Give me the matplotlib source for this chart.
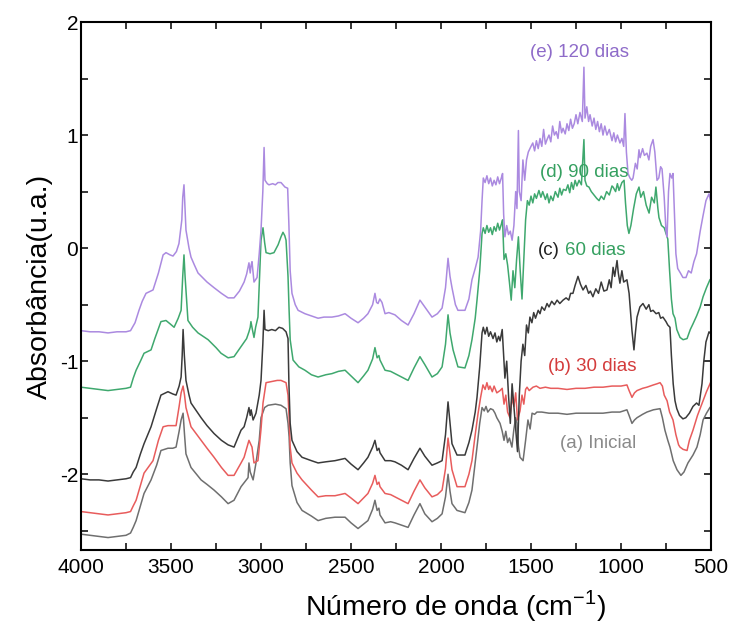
import matplotlib
matplotlib.use("Agg")
import matplotlib.pyplot as plt
from matplotlib.ticker import MultipleLocator

plt.rcParams['font.family'] = ['Liberation Sans', 'DejaVu Sans']
plt.rcParams['axes.unicode_minus'] = False
plt.rcParams['mathtext.fontset'] = 'custom'
plt.rcParams['mathtext.rm'] = 'Liberation Sans'

# (wavenumber cm-1, absorbance)
spec_e = [
    (4000, -0.73), (3950, -0.74), (3900, -0.74), (3850, -0.75), (3800, -0.74), (3750, -0.74), (3725, -0.73),
    (3700, -0.66), (3678, -0.55), (3660, -0.47), (3639, -0.40), (3600, -0.37), (3570, -0.22), (3544, -0.06),
    (3528, -0.04), (3505, -0.06), (3489, -0.07), (3470, -0.03), (3456, 0.04), (3440, 0.25), (3435, 0.45),
    (3428, 0.56), (3422, 0.35), (3417, 0.16), (3400, 0.0), (3389, -0.08), (3370, -0.15), (3350, -0.22),
    (3300, -0.30), (3261, -0.35), (3220, -0.40), (3183, -0.44), (3150, -0.44), (3120, -0.38), (3094, -0.30),
    (3080, -0.23), (3067, -0.13), (3060, -0.22), (3055, -0.15), (3050, -0.12), (3039, -0.30), (3022, -0.26),
    (3010, -0.05), (3000, 0.16), (2990, 0.5), (2983, 0.89), (2978, 0.60), (2965, 0.57), (2956, 0.56),
    (2935, 0.57), (2920, 0.56), (2906, 0.58), (2889, 0.58), (2867, 0.54), (2852, 0.53), (2845, 0.2),
    (2838, -0.2), (2828, -0.40), (2810, -0.50), (2794, -0.55), (2756, -0.58), (2720, -0.60), (2683, -0.62),
    (2650, -0.61), (2606, -0.61), (2570, -0.60), (2533, -0.58), (2500, -0.62), (2461, -0.66), (2430, -0.62),
    (2406, -0.58), (2380, -0.50), (2367, -0.40), (2358, -0.48), (2350, -0.49), (2340, -0.45), (2328, -0.48),
    (2311, -0.58), (2290, -0.57), (2256, -0.59), (2220, -0.64), (2183, -0.68), (2150, -0.58), (2117, -0.46),
    (2090, -0.52), (2050, -0.61), (2020, -0.58), (1994, -0.53), (1975, -0.35), (1961, -0.09), (1950, -0.25),
    (1939, -0.35), (1920, -0.50), (1906, -0.55), (1867, -0.55), (1845, -0.45), (1828, -0.28), (1810, -0.18),
    (1794, -0.08), (1780, 0.15), (1772, 0.42), (1765, 0.62), (1755, 0.58), (1745, 0.64), (1735, 0.57),
    (1725, 0.62), (1715, 0.55), (1705, 0.60), (1695, 0.56), (1685, 0.63), (1675, 0.57), (1665, 0.62),
    (1658, 0.66), (1652, 0.3), (1645, 0.1), (1635, 0.2), (1625, 0.12), (1615, 0.15), (1605, 0.07),
    (1595, 0.2), (1585, 0.5), (1578, 0.35), (1570, 1.04), (1565, 0.5), (1555, 0.42), (1545, 0.78),
    (1535, 0.60), (1525, 0.78), (1515, 0.85), (1500, 0.90), (1490, 0.93), (1480, 0.86), (1470, 0.95),
    (1460, 0.88), (1450, 0.97), (1440, 0.90), (1430, 1.05), (1420, 0.92), (1411, 0.96), (1400, 1.00),
    (1390, 0.94), (1380, 1.08), (1370, 1.00), (1360, 1.03), (1350, 0.97), (1340, 1.12), (1330, 1.02),
    (1322, 1.06), (1310, 1.01), (1300, 1.10), (1290, 1.04), (1280, 1.14), (1270, 1.06), (1260, 1.10),
    (1250, 1.18), (1240, 1.10), (1228, 1.20), (1215, 1.12), (1206, 1.60), (1200, 1.15), (1190, 1.25),
    (1180, 1.12), (1172, 1.18), (1160, 1.08), (1150, 1.15), (1140, 1.05), (1130, 1.12), (1120, 1.03),
    (1110, 1.10), (1100, 1.00), (1090, 1.08), (1078, 1.00), (1065, 1.05), (1050, 0.95), (1040, 1.02),
    (1030, 0.94), (1020, 1.00), (1006, 0.93), (995, 0.97), (985, 0.90), (978, 1.19), (970, 0.85),
    (961, 0.66), (950, 0.62), (940, 0.60), (933, 0.62), (920, 0.75), (910, 0.70), (900, 0.87), (894, 0.80),
    (880, 0.88), (870, 0.82), (856, 0.84), (845, 0.78), (835, 0.90), (822, 0.96), (812, 0.85), (800, 0.60),
    (790, 0.62), (780, 0.72), (772, 0.70), (760, 0.45), (750, 0.15), (744, 0.10), (736, 0.5), (728, 0.66),
    (718, 0.62), (711, 0.66), (703, 0.3), (695, -0.05), (685, -0.18), (670, -0.22), (656, -0.26),
    (639, -0.26), (625, -0.20), (610, -0.22), (595, -0.12), (580, -0.05), (560, 0.15), (545, 0.28),
    (528, 0.42), (511, 0.48), (500, 0.40),
]

spec_d = [
    (4000, -1.23), (3950, -1.24), (3900, -1.25), (3850, -1.26), (3800, -1.25), (3750, -1.24), (3725, -1.23),
    (3710, -1.15), (3694, -1.08), (3670, -1.00), (3650, -0.93), (3611, -0.90), (3590, -0.80), (3567, -0.70),
    (3556, -0.65), (3528, -0.64), (3505, -0.67), (3483, -0.70), (3460, -0.62), (3444, -0.55), (3435, -0.25),
    (3428, -0.06), (3422, -0.25), (3417, -0.37), (3410, -0.55), (3406, -0.64), (3380, -0.70), (3350, -0.75),
    (3294, -0.81), (3250, -0.88), (3222, -0.93), (3183, -0.97), (3150, -0.96), (3111, -0.87), (3094, -0.83),
    (3080, -0.80), (3067, -0.74), (3060, -0.70), (3056, -0.65), (3048, -0.72), (3039, -0.79), (3030, -0.70),
    (3017, -0.61), (3008, -0.25), (3000, 0.07), (2989, 0.18), (2980, 0.05), (2972, -0.04), (2950, -0.05),
    (2928, -0.04), (2905, 0.03), (2889, 0.10), (2878, 0.14), (2868, 0.11), (2861, 0.07), (2850, -0.25),
    (2844, -0.55), (2838, -0.81), (2822, -0.99), (2790, -1.05), (2756, -1.08), (2720, -1.12), (2683, -1.14),
    (2640, -1.12), (2606, -1.11), (2570, -1.09), (2533, -1.08), (2500, -1.13), (2461, -1.19), (2430, -1.13),
    (2406, -1.08), (2380, -0.98), (2367, -0.88), (2355, -0.97), (2345, -0.95), (2339, -0.99), (2311, -1.08),
    (2280, -1.09), (2256, -1.11), (2220, -1.14), (2183, -1.17), (2150, -1.06), (2117, -0.96), (2090, -1.03),
    (2050, -1.14), (2020, -1.11), (1994, -1.05), (1975, -0.85), (1961, -0.59), (1950, -0.75), (1933, -0.90),
    (1906, -1.05), (1867, -1.06), (1845, -0.95), (1828, -0.81), (1810, -0.62), (1800, -0.46), (1785, -0.2),
    (1772, 0.13), (1765, 0.18), (1755, 0.13), (1745, 0.20), (1735, 0.14), (1725, 0.18), (1715, 0.12),
    (1705, 0.19), (1695, 0.15), (1685, 0.22), (1675, 0.16), (1665, 0.21), (1658, 0.25), (1650, -0.1),
    (1640, -0.05), (1630, -0.15), (1620, -0.3), (1610, -0.46), (1600, -0.20), (1590, -0.35), (1580, -0.10),
    (1570, 0.10), (1560, -0.2), (1550, -0.45), (1540, -0.1), (1530, 0.25), (1520, 0.42), (1510, 0.38),
    (1500, 0.46), (1490, 0.40), (1480, 0.48), (1470, 0.44), (1456, 0.51), (1445, 0.45), (1435, 0.50),
    (1420, 0.43), (1410, 0.48), (1400, 0.40), (1390, 0.46), (1378, 0.42), (1365, 0.50), (1350, 0.45),
    (1340, 0.53), (1330, 0.47), (1320, 0.52), (1306, 0.51), (1295, 0.56), (1285, 0.49), (1275, 0.58),
    (1265, 0.52), (1255, 0.60), (1245, 0.55), (1233, 0.60), (1220, 0.56), (1206, 0.96), (1200, 0.60),
    (1190, 0.55), (1178, 0.54), (1165, 0.50), (1150, 0.47), (1135, 0.44), (1122, 0.42), (1110, 0.46),
    (1095, 0.43), (1080, 0.50), (1065, 0.47), (1050, 0.55), (1044, 0.54), (1030, 0.50), (1020, 0.57),
    (1011, 0.51), (995, 0.58), (983, 0.60), (975, 0.40), (965, 0.20), (956, 0.13), (945, 0.20), (930, 0.35),
    (915, 0.48), (900, 0.54), (890, 0.45), (875, 0.50), (860, 0.38), (844, 0.31), (830, 0.45), (815, 0.40),
    (806, 0.54), (795, 0.35), (789, 0.27), (775, 0.20), (760, 0.18), (750, 0.13), (740, 0.08), (730, -0.2),
    (720, -0.45), (711, -0.58), (700, -0.62), (690, -0.72), (672, -0.79), (655, -0.81), (633, -0.80),
    (615, -0.72), (600, -0.67), (580, -0.60), (560, -0.52), (544, -0.43), (525, -0.35), (506, -0.28),
    (500, -0.27),
]

spec_c = [
    (4000, -2.04), (3950, -2.05), (3900, -2.05), (3850, -2.06), (3800, -2.05), (3750, -2.04), (3725, -2.03),
    (3710, -1.98), (3694, -1.94), (3670, -1.82), (3650, -1.73), (3611, -1.58), (3580, -1.42), (3556, -1.30),
    (3517, -1.27), (3490, -1.29), (3472, -1.30), (3455, -1.22), (3444, -1.14), (3438, -0.95), (3433, -0.72),
    (3426, -0.95), (3417, -1.17), (3400, -1.30), (3389, -1.37), (3333, -1.50), (3300, -1.57), (3261, -1.64),
    (3220, -1.70), (3183, -1.74), (3150, -1.76), (3111, -1.61), (3094, -1.58), (3080, -1.50), (3067, -1.41),
    (3060, -1.48), (3055, -1.43), (3044, -1.52), (3028, -1.46), (3010, -1.30), (3000, -1.17), (2990, -0.85),
    (2983, -0.55), (2978, -0.72), (2960, -0.73), (2940, -0.72), (2920, -0.73), (2900, -0.70), (2880, -0.71),
    (2861, -0.74), (2850, -0.80), (2845, -1.2), (2838, -1.55), (2828, -1.70), (2800, -1.80), (2772, -1.85),
    (2720, -1.88), (2683, -1.90), (2640, -1.89), (2589, -1.88), (2533, -1.86), (2500, -1.91), (2461, -1.96),
    (2430, -1.90), (2406, -1.85), (2380, -1.76), (2367, -1.70), (2355, -1.79), (2345, -1.77), (2339, -1.81),
    (2311, -1.88), (2280, -1.88), (2256, -1.89), (2220, -1.92), (2183, -1.96), (2150, -1.86), (2117, -1.77),
    (2090, -1.84), (2050, -1.92), (2020, -1.90), (1994, -1.88), (1975, -1.65), (1961, -1.36), (1950, -1.55),
    (1939, -1.73), (1911, -1.83), (1867, -1.83), (1845, -1.72), (1828, -1.61), (1810, -1.45), (1800, -1.32),
    (1785, -1.05), (1772, -0.75), (1765, -0.70), (1755, -0.76), (1745, -0.70), (1735, -0.78), (1725, -0.74),
    (1711, -0.80), (1700, -0.75), (1690, -0.83), (1680, -0.78), (1672, -0.82), (1660, -0.72), (1652, -0.95),
    (1645, -1.15), (1635, -1.0), (1625, -1.3), (1615, -1.55), (1605, -1.20), (1595, -1.40), (1585, -1.6),
    (1575, -1.80), (1565, -1.30), (1555, -1.0), (1545, -0.85), (1535, -0.95), (1525, -0.68), (1515, -0.75),
    (1506, -0.61), (1495, -0.66), (1485, -0.57), (1475, -0.62), (1460, -0.55), (1450, -0.58), (1440, -0.52),
    (1425, -0.55), (1411, -0.49), (1400, -0.52), (1385, -0.47), (1370, -0.50), (1355, -0.46), (1340, -0.49),
    (1322, -0.46), (1305, -0.44), (1290, -0.46), (1280, -0.40), (1267, -0.40), (1255, -0.33), (1239, -0.25),
    (1225, -0.32), (1211, -0.37), (1195, -0.33), (1180, -0.40), (1170, -0.38), (1156, -0.43), (1140, -0.36),
    (1125, -0.40), (1110, -0.30), (1095, -0.38), (1078, -0.37), (1065, -0.28), (1055, -0.35), (1044, -0.17),
    (1035, -0.25), (1022, -0.11), (1015, -0.22), (1006, -0.31), (995, -0.20), (985, -0.30), (967, -0.28),
    (955, -0.40), (945, -0.60), (939, -0.73), (928, -0.90), (920, -0.75), (911, -0.61), (895, -0.52),
    (878, -0.49), (860, -0.54), (845, -0.50), (835, -0.56), (822, -0.55), (805, -0.58), (790, -0.57),
    (780, -0.62), (767, -0.61), (750, -0.65), (740, -0.68), (728, -0.70), (720, -0.95), (710, -1.20),
    (700, -1.35), (690, -1.42), (675, -1.48), (656, -1.51), (640, -1.50), (620, -1.46), (600, -1.40),
    (580, -1.37), (567, -1.39), (550, -1.20), (540, -1.00), (528, -0.83), (511, -0.74), (500, -0.76),
]

spec_b = [
    (4000, -2.33), (3950, -2.34), (3900, -2.35), (3850, -2.36), (3800, -2.35), (3750, -2.34), (3725, -2.33),
    (3710, -2.28), (3694, -2.23), (3670, -2.10), (3650, -1.99), (3600, -1.88), (3570, -1.70), (3544, -1.58),
    (3517, -1.57), (3490, -1.57), (3472, -1.57), (3455, -1.40), (3444, -1.28), (3433, -1.22), (3425, -1.30),
    (3417, -1.41), (3389, -1.58), (3333, -1.70), (3300, -1.77), (3261, -1.85), (3220, -1.94), (3183, -2.01),
    (3150, -2.01), (3111, -1.90), (3094, -1.85), (3067, -1.70), (3050, -1.76), (3039, -1.90), (3017, -1.88),
    (3000, -1.60), (2989, -1.37), (2972, -1.19), (2940, -1.18), (2910, -1.17), (2889, -1.17), (2861, -1.19),
    (2850, -1.30), (2844, -1.50), (2838, -1.76), (2828, -1.90), (2800, -1.99), (2772, -2.05), (2720, -2.14),
    (2683, -2.20), (2640, -2.19), (2589, -2.19), (2533, -2.17), (2500, -2.21), (2461, -2.26), (2430, -2.21),
    (2406, -2.17), (2380, -2.08), (2367, -2.01), (2355, -2.09), (2345, -2.07), (2339, -2.11), (2311, -2.17),
    (2280, -2.18), (2256, -2.20), (2220, -2.23), (2183, -2.26), (2150, -2.15), (2117, -2.05), (2090, -2.12),
    (2050, -2.20), (2020, -2.18), (1994, -2.14), (1975, -1.95), (1961, -1.68), (1950, -1.82), (1939, -1.96),
    (1911, -2.11), (1867, -2.11), (1845, -2.00), (1828, -1.88), (1810, -1.65), (1794, -1.46), (1780, -1.32),
    (1767, -1.21), (1755, -1.25), (1745, -1.19), (1735, -1.25), (1728, -1.22), (1715, -1.27), (1705, -1.22),
    (1690, -1.28), (1672, -1.26), (1660, -1.24), (1650, -1.38), (1640, -1.30), (1630, -1.45), (1617, -1.50),
    (1605, -1.32), (1595, -1.40), (1585, -1.28), (1575, -1.52), (1561, -1.44), (1550, -1.30), (1540, -1.38),
    (1530, -1.25), (1522, -1.23), (1510, -1.26), (1489, -1.23), (1470, -1.22), (1450, -1.24), (1420, -1.23),
    (1390, -1.24), (1350, -1.24), (1300, -1.25), (1250, -1.24), (1200, -1.24), (1150, -1.23), (1100, -1.23),
    (1050, -1.22), (1000, -1.22), (967, -1.21), (955, -1.26), (939, -1.32), (925, -1.28), (911, -1.26),
    (880, -1.24), (856, -1.23), (820, -1.21), (800, -1.20), (783, -1.19), (770, -1.22), (760, -1.30),
    (744, -1.35), (730, -1.45), (711, -1.52), (695, -1.65), (680, -1.74), (672, -1.76), (655, -1.78),
    (633, -1.79), (620, -1.70), (600, -1.61), (575, -1.48), (544, -1.35), (525, -1.27), (506, -1.20),
    (500, -1.18),
]

spec_a = [
    (4000, -2.53), (3950, -2.54), (3900, -2.55), (3850, -2.56), (3800, -2.55), (3750, -2.54), (3725, -2.52),
    (3710, -2.47), (3694, -2.41), (3670, -2.28), (3650, -2.17), (3611, -2.05), (3580, -1.92), (3556, -1.79),
    (3517, -1.77), (3490, -1.77), (3472, -1.76), (3455, -1.62), (3444, -1.52), (3433, -1.46), (3425, -1.65),
    (3417, -1.82), (3389, -1.94), (3333, -2.05), (3300, -2.09), (3261, -2.14), (3220, -2.20), (3183, -2.26),
    (3150, -2.23), (3111, -2.11), (3072, -2.03), (3067, -1.90), (3060, -1.98), (3044, -2.05), (3028, -1.90),
    (3010, -1.70), (3000, -1.50), (2980, -1.41), (2961, -1.39), (2920, -1.38), (2889, -1.39), (2861, -1.42),
    (2850, -1.55), (2844, -1.67), (2838, -1.90), (2828, -2.10), (2800, -2.25), (2772, -2.32), (2720, -2.37),
    (2683, -2.41), (2640, -2.39), (2589, -2.38), (2533, -2.38), (2500, -2.43), (2461, -2.48), (2430, -2.44),
    (2406, -2.41), (2380, -2.31), (2367, -2.23), (2355, -2.32), (2345, -2.30), (2339, -2.36), (2311, -2.43),
    (2280, -2.42), (2256, -2.43), (2220, -2.45), (2183, -2.47), (2150, -2.36), (2117, -2.26), (2090, -2.35),
    (2050, -2.42), (2020, -2.39), (1994, -2.35), (1975, -2.20), (1961, -2.00), (1950, -2.15), (1939, -2.26),
    (1911, -2.32), (1867, -2.34), (1845, -2.25), (1828, -2.14), (1810, -1.90), (1800, -1.76), (1785, -1.55),
    (1772, -1.41), (1760, -1.44), (1750, -1.40), (1740, -1.45), (1725, -1.42), (1711, -1.43), (1700, -1.46),
    (1690, -1.50), (1672, -1.55), (1660, -1.62), (1650, -1.70), (1640, -1.62), (1630, -1.72), (1620, -1.68),
    (1606, -1.76), (1595, -1.60), (1585, -1.50), (1578, -1.55), (1570, -1.75), (1561, -1.85), (1544, -1.88),
    (1530, -1.70), (1517, -1.52), (1505, -1.60), (1494, -1.46), (1480, -1.47), (1467, -1.45), (1440, -1.45),
    (1400, -1.46), (1350, -1.46), (1300, -1.47), (1250, -1.46), (1228, -1.46), (1150, -1.46), (1100, -1.46),
    (1050, -1.45), (1006, -1.45), (967, -1.43), (955, -1.48), (939, -1.55), (925, -1.52), (911, -1.50),
    (880, -1.47), (856, -1.45), (820, -1.43), (783, -1.42), (770, -1.50), (756, -1.61), (740, -1.70),
    (728, -1.76), (710, -1.88), (689, -1.96), (667, -2.01), (650, -1.98), (628, -1.90), (600, -1.83),
    (578, -1.76), (560, -1.65), (544, -1.52), (525, -1.46), (506, -1.41), (500, -1.40),
]

spectra = [spec_a, spec_b, spec_c, spec_d, spec_e]
line_colors = ["#6f6f6f", "#e85c5c", "#3a3a3a", "#3fa86e", "#ab8ae0"]

fig = plt.figure(figsize=(7.32, 6.25), dpi=100)
ax = fig.add_axes([0.1107, 0.12, 0.8606, 0.8448])

for spec, col in zip(spectra, line_colors):
    wn = [p[0] for p in spec]
    ab = [p[1] for p in spec]
    ax.plot(wn, ab, color=col, linewidth=1.1)

# curve labels
ax.text(1228, 1.73, "(e) 120 dias", color="#8e6bc9", fontsize=13.5, ha="center", va="center")
ax.text(1206, 0.67, "(d) 90 dias", color="#35a060", fontsize=13.5, ha="center", va="center")
ax.text(1461, -0.02, "(c)", color="#222222", fontsize=13.5, ha="left", va="center")
ax.text(1311, -0.02, "60 dias", color="#35a060", fontsize=13.5, ha="left", va="center")
ax.text(1161, -1.05, "(b) 30 dias", color="#d43c3c", fontsize=13.5, ha="center", va="center")
ax.text(1128, -1.73, "(a) Inicial", color="#8a8a8a", fontsize=13.5, ha="center", va="center")

ax.set_xlim(4000, 500)
ax.set_ylim(-2.67, 2)
ax.xaxis.set_major_locator(MultipleLocator(500))
ax.xaxis.set_minor_locator(MultipleLocator(250))
ax.yaxis.set_major_locator(MultipleLocator(1))
ax.yaxis.set_minor_locator(MultipleLocator(0.5))
ax.tick_params(which="both", direction="in", top=True, right=True, length=5, width=1.1)
ax.tick_params(axis="x", labelsize=15, pad=6)
ax.tick_params(axis="y", labelsize=15, pad=2)
for s in ax.spines.values():
    s.set_linewidth(1.5)

ax.set_xlabel(r"Número de onda (cm$^{\mathregular{-1}}$)", fontsize=20.5)
ax.set_ylabel("Absorbância(u.a.)", fontsize=20.5)
ax.xaxis.set_label_coords(0.594, -0.106)
ax.xaxis.label.set_va("center")
ax.yaxis.set_label_coords(-0.065, 0.5)
ax.yaxis.label.set_va("center")

plt.savefig("out.png", dpi=100)
